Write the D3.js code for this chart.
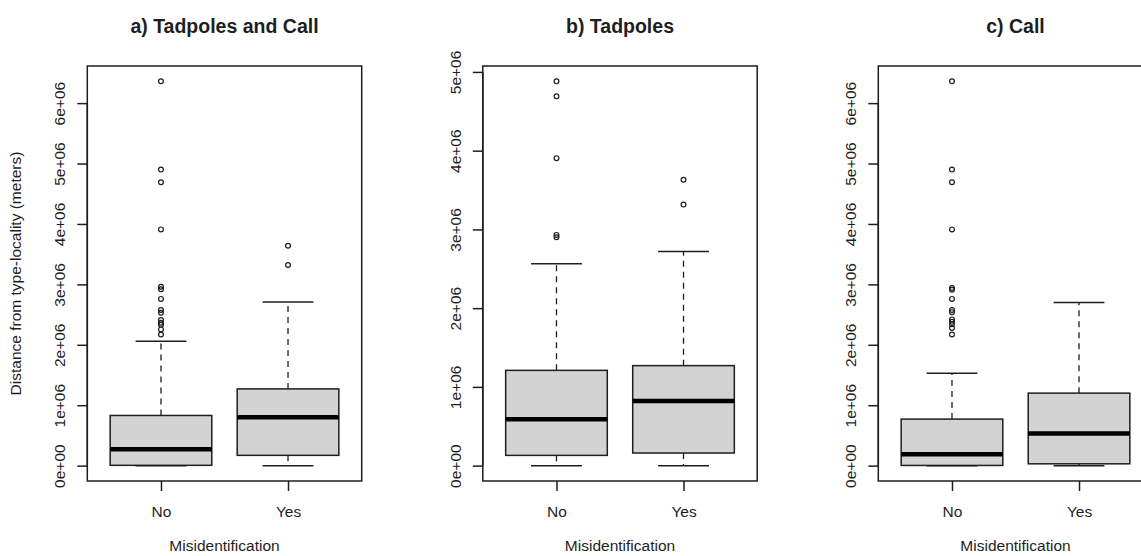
<!doctype html>
<html>
<head>
<meta charset="utf-8">
<style>
    body { margin: 0; background: #fff; }
    text { font-family: "Liberation Sans", Arial, sans-serif; fill: #1e1e1e; }
</style>
</head>
<body>

<div id="container"></div>

<script src="https://cdn.jsdelivr.net/npm/d3@7"></script>
<script type="text/javascript">

    // groups on the x axis
    var categories = ["No", "Yes"];
    var panelTitles = ["a) Tadpoles and Call", "b) Tadpoles", "c) Call"];
    var xlabel = "Misidentification";
    var ylabel = "Distance from type-locality (meters)";

    // y tick values per panel
    var yTicksA = [0, 1e6, 2e6, 3e6, 4e6, 5e6, 6e6];
    var yTicksB = [0, 1e6, 2e6, 3e6, 4e6, 5e6];
    var yTicksC = [0, 1e6, 2e6, 3e6, 4e6, 5e6, 6e6];

    // [lower whisker, Q1, median, Q3, upper whisker] for No / Yes
    var statsA = [[0, 0.005e6, 0.27e6, 0.83e6, 2.06e6], [0, 0.17e6, 0.80e6, 1.27e6, 2.71e6]];
    var statsB = [[0, 0.13e6, 0.59e6, 1.21e6, 2.565e6], [0, 0.16e6, 0.82e6, 1.27e6, 2.72e6]];
    var statsC = [[0, 0.003e6, 0.19e6, 0.77e6, 1.53e6], [0, 0.03e6, 0.53e6, 1.20e6, 2.70e6]];

    // outliers for No / Yes
    var outliersA = [
        [2.17e6, 2.255e6, 2.33e6, 2.365e6, 2.41e6, 2.53e6, 2.575e6, 2.76e6, 2.92e6, 2.96e6, 3.91e6, 4.69e6, 4.90e6, 6.36e6],
        [3.32e6, 3.64e6]
    ];
    var outliersB = [
        [2.90e6, 2.93e6, 3.905e6, 4.69e6, 4.88e6],
        [3.315e6, 3.63e6]
    ];
    var outliersC = [
        [2.17e6, 2.28e6, 2.34e6, 2.38e6, 2.42e6, 2.54e6, 2.575e6, 2.76e6, 2.91e6, 2.94e6, 3.91e6, 4.69e6, 4.90e6, 6.36e6],
        []
    ];

    var panels = [
        {title: panelTitles[0], ticks: yTicksA, stats: statsA, outliers: outliersA, showYLabel: true},
        {title: panelTitles[1], ticks: yTicksB, stats: statsB, outliers: outliersB, showYLabel: false},
        {title: panelTitles[2], ticks: yTicksC, stats: statsC, outliers: outliersC, showYLabel: false}
    ];

    var width = 1141, height = 556;
    var panelStep = 395.5;
    var margin = {top: 66, left: 87.3};
    var innerwidth = 274.4, innerheight = 415;
    var ink = "#1e1e1e";

    var svg = d3.select("#container").append("svg")
        .attr("width", width)
        .attr("height", height);

    function sci(v) {
        if (v === 0) return "0e+00";
        return Math.round(v / 1e6) + "e+06";
    }

    panels.forEach(function (p, k) {

        var g = svg.append("g")
            .attr("transform", "translate(" + (k * panelStep + margin.left) + "," + margin.top + ")");

        var allvals = [];
        p.stats.forEach(function (s) { allvals = allvals.concat(s); });
        p.outliers.forEach(function (o) { allvals = allvals.concat(o); });
        var ext = d3.extent(allvals);
        var pad = 0.04 * (ext[1] - ext[0]);

        var y_scale = d3.scaleLinear()
            .domain([ext[0] - pad, ext[1] + pad])
            .range([innerheight, 0]);

        var x_scale = d3.scaleLinear()
            .domain([0.42, 2.58])
            .range([0, innerwidth]);

        var bw = x_scale(1.4) - x_scale(1);   // half box width
        var sw = x_scale(1.2) - x_scale(1);   // half staple width

        // boxes
        p.stats.forEach(function (s, i) {
            var cx = x_scale(i + 1);
            var bg = g.append("g");

            // whiskers
            bg.append("line")
                .attr("x1", cx).attr("x2", cx)
                .attr("y1", y_scale(s[3])).attr("y2", y_scale(s[4]))
                .attr("stroke", ink).attr("stroke-width", 1.3)
                .attr("stroke-dasharray", "6,5");
            bg.append("line")
                .attr("x1", cx).attr("x2", cx)
                .attr("y1", y_scale(s[1])).attr("y2", y_scale(s[0]))
                .attr("stroke", ink).attr("stroke-width", 1.3)
                .attr("stroke-dasharray", "6,5");

            // staples
            [s[0], s[4]].forEach(function (v) {
                bg.append("line")
                    .attr("x1", cx - sw).attr("x2", cx + sw)
                    .attr("y1", y_scale(v)).attr("y2", y_scale(v))
                    .attr("stroke", ink).attr("stroke-width", 1.5);
            });

            bg.append("rect")
                .attr("x", cx - bw)
                .attr("y", y_scale(s[3]))
                .attr("width", 2 * bw)
                .attr("height", y_scale(s[1]) - y_scale(s[3]))
                .attr("fill", "#d3d3d3")
                .attr("stroke", ink)
                .attr("stroke-width", 1.5);

            bg.append("line")
                .attr("x1", cx - bw).attr("x2", cx + bw)
                .attr("y1", y_scale(s[2])).attr("y2", y_scale(s[2]))
                .attr("stroke", "#000").attr("stroke-width", 4.5);

            bg.selectAll("circle")
                .data(p.outliers[i])
                .enter().append("circle")
                .attr("cx", cx)
                .attr("cy", function (d) { return y_scale(d); })
                .attr("r", 2.4)
                .attr("fill", "none")
                .attr("stroke", ink)
                .attr("stroke-width", 1.2);
        });

        // plot frame
        g.append("rect")
            .attr("width", innerwidth)
            .attr("height", innerheight)
            .attr("fill", "none")
            .attr("stroke", ink)
            .attr("stroke-width", 1.5);

        // y axis
        var y_axis = d3.axisLeft(y_scale)
            .tickValues(p.ticks)
            .tickFormat(sci)
            .tickSize(10)
            .tickSizeOuter(0);

        var ya = g.append("g").call(y_axis);
        ya.select(".domain")
            .attr("d", "M0," + y_scale(p.ticks[0]) + "V" + y_scale(p.ticks[p.ticks.length - 1]))
            .attr("stroke", ink).attr("stroke-width", 1.5);
        ya.selectAll(".tick line").attr("stroke", ink).attr("stroke-width", 1.5);
        ya.selectAll(".tick text")
            .attr("transform", "rotate(-90)")
            .attr("x", 0)
            .attr("y", -22)
            .attr("dy", 0)
            .style("text-anchor", "middle")
            .style("font-size", "15.5px")
            .style("font-family", "'Liberation Sans', Arial, sans-serif")
            .attr("fill", ink);

        // x axis
        var x_axis = d3.axisBottom(x_scale)
            .tickValues([1, 2])
            .tickFormat(function (d) { return categories[d - 1]; })
            .tickSize(10)
            .tickSizeOuter(0);

        var xa = g.append("g")
            .attr("transform", "translate(0," + innerheight + ")")
            .call(x_axis);
        xa.select(".domain").remove();
        xa.selectAll(".tick line").attr("stroke", ink).attr("stroke-width", 1.5);
        xa.selectAll(".tick text")
            .attr("y", 36)
            .attr("dy", 0)
            .style("font-size", "15.5px")
            .style("font-family", "'Liberation Sans', Arial, sans-serif")
            .attr("fill", ink);

        // titles and labels
        g.append("text")
            .attr("x", innerwidth / 2)
            .attr("y", 33 - margin.top)
            .style("text-anchor", "middle")
            .style("font-size", "19.5px")
            .style("font-weight", "bold")
            .text(p.title);

        g.append("text")
            .attr("x", innerwidth / 2)
            .attr("y", 551 - margin.top)
            .style("text-anchor", "middle")
            .style("font-size", "15.5px")
            .text(xlabel);

        if (p.showYLabel) {
            g.append("text")
                .attr("transform", "rotate(-90)")
                .attr("x", -innerheight / 2)
                .attr("y", 21 - margin.left)
                .style("text-anchor", "middle")
                .style("font-size", "15.5px")
                .text(ylabel);
        }
    });
</script>
</body>
</html>
